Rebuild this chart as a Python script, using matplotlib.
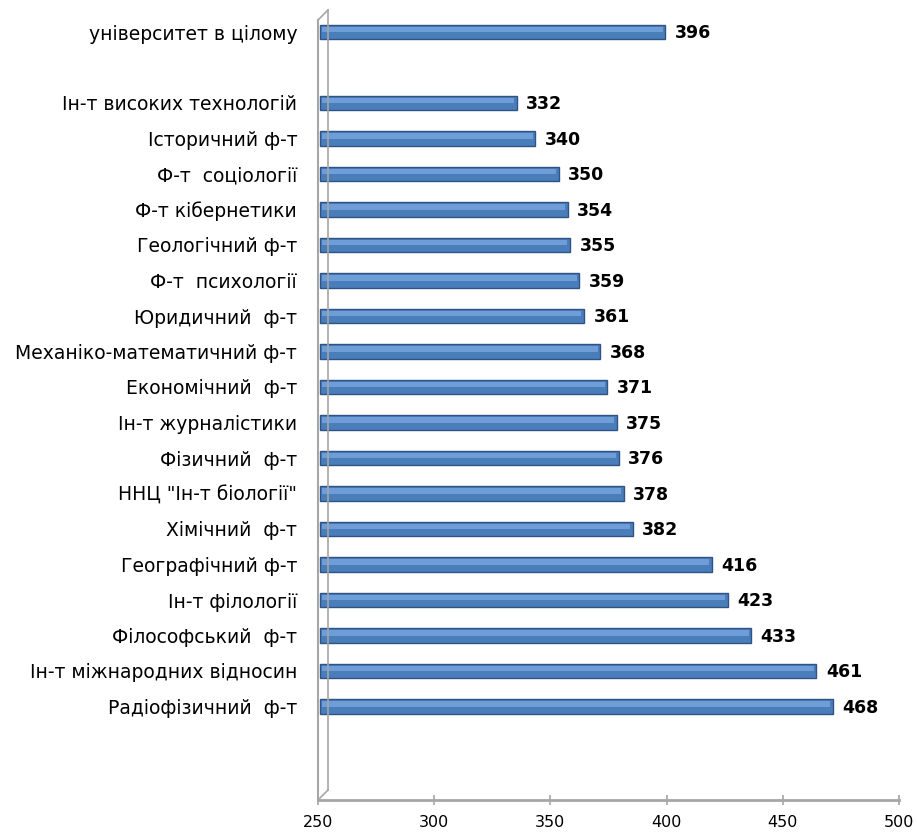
import matplotlib.pyplot as plt
from matplotlib.lines import Line2D

# Дані
total_label = "університет в цілому"
total_value = 396

faculties = [
    "Ін-т високих технологій",
    "Історичний ф-т",
    "Ф-т  соціології",
    "Ф-т кібернетики",
    "Геологічний ф-т",
    "Ф-т  психології",
    "Юридичний  ф-т",
    "Механіко-математичний ф-т",
    "Економічний  ф-т",
    "Ін-т журналістики",
    "Фізичний  ф-т",
    "ННЦ \"Ін-т біології\"",
    "Хімічний  ф-т",
    "Географічний ф-т",
    "Ін-т філології",
    "Філософський  ф-т",
    "Ін-т міжнародних відносин",
    "Радіофізичний  ф-т",
]
scores = [332, 340, 350, 354, 355, 359, 361, 368, 371, 375, 376, 378, 382,
          416, 423, 433, 461, 468]
x_ticks = [250, 300, 350, 400, 450, 500]

labels = [total_label] + faculties
values = [total_value] + scores
# позиції: після загального показника пропущено один рядок
ypos = [0] + list(range(2, 2 + len(faculties)))

W, H = 917, 834
fig = plt.figure(figsize=(W / 100, H / 100), dpi=100)
ax = fig.add_axes([318 / W, 1 - 800 / H, (899 - 318) / W, (800 - 10) / H])

base = 250
widths = [v - base for v in values]
ax.barh(ypos, [w + 2.5 for w in widths], left=base + 1, height=0.42,
        color="#4A7EBB", edgecolor="#2F5483", linewidth=1.0, zorder=3)
# світла смуга для ефекту об'єму
ax.barh([y - 0.07 for y in ypos], [w + 0.5 for w in widths], left=base + 1.8,
        height=0.15, color="#6F9DD8", linewidth=0, zorder=4)

for y, v in zip(ypos, values):
    ax.text(v + 7.5, y + 0.04, str(v), va="center", ha="left", fontsize=12.5,
            fontweight="bold", color="black", zorder=5)

ax.set_yticks(ypos)
ax.set_yticklabels(labels, fontsize=13.5)
ax.set_xlim(250, 500)
ax.set_ylim((800 - 32) / 35.5, (10 - 32) / 35.5)
ax.set_xticks(x_ticks)
ax.set_xticklabels([str(t) for t in x_ticks], fontsize=11.5)

for s in ["top", "right"]:
    ax.spines[s].set_visible(False)
ax.spines["left"].set_color("#A6A6A6")
ax.spines["bottom"].set_color("#A6A6A6")
ax.spines["left"].set_linewidth(1.5)
ax.spines["bottom"].set_linewidth(2)
ax.spines["left"].set_bounds(ax.get_ylim()[0], (20 - 32) / 35.5)
ax.tick_params(axis="y", length=0, pad=15)
ax.tick_params(axis="x", direction="inout", length=7, width=1.2,
               color="#A6A6A6", pad=7)

# задня стінка (псевдо-3D)
wall = "#A6A6A6"
fig.add_artist(Line2D([328 / W, 328 / W], [1 - 10 / H, 1 - 790 / H],
                      transform=fig.transFigure, color=wall, lw=1.2))
fig.add_artist(Line2D([318 / W, 328 / W], [1 - 20 / H, 1 - 10 / H],
                      transform=fig.transFigure, color=wall, lw=1.2))
fig.add_artist(Line2D([318 / W, 328 / W], [1 - 800 / H, 1 - 790 / H],
                      transform=fig.transFigure, color=wall, lw=1.2))

fig.savefig("out.png", dpi=100)
